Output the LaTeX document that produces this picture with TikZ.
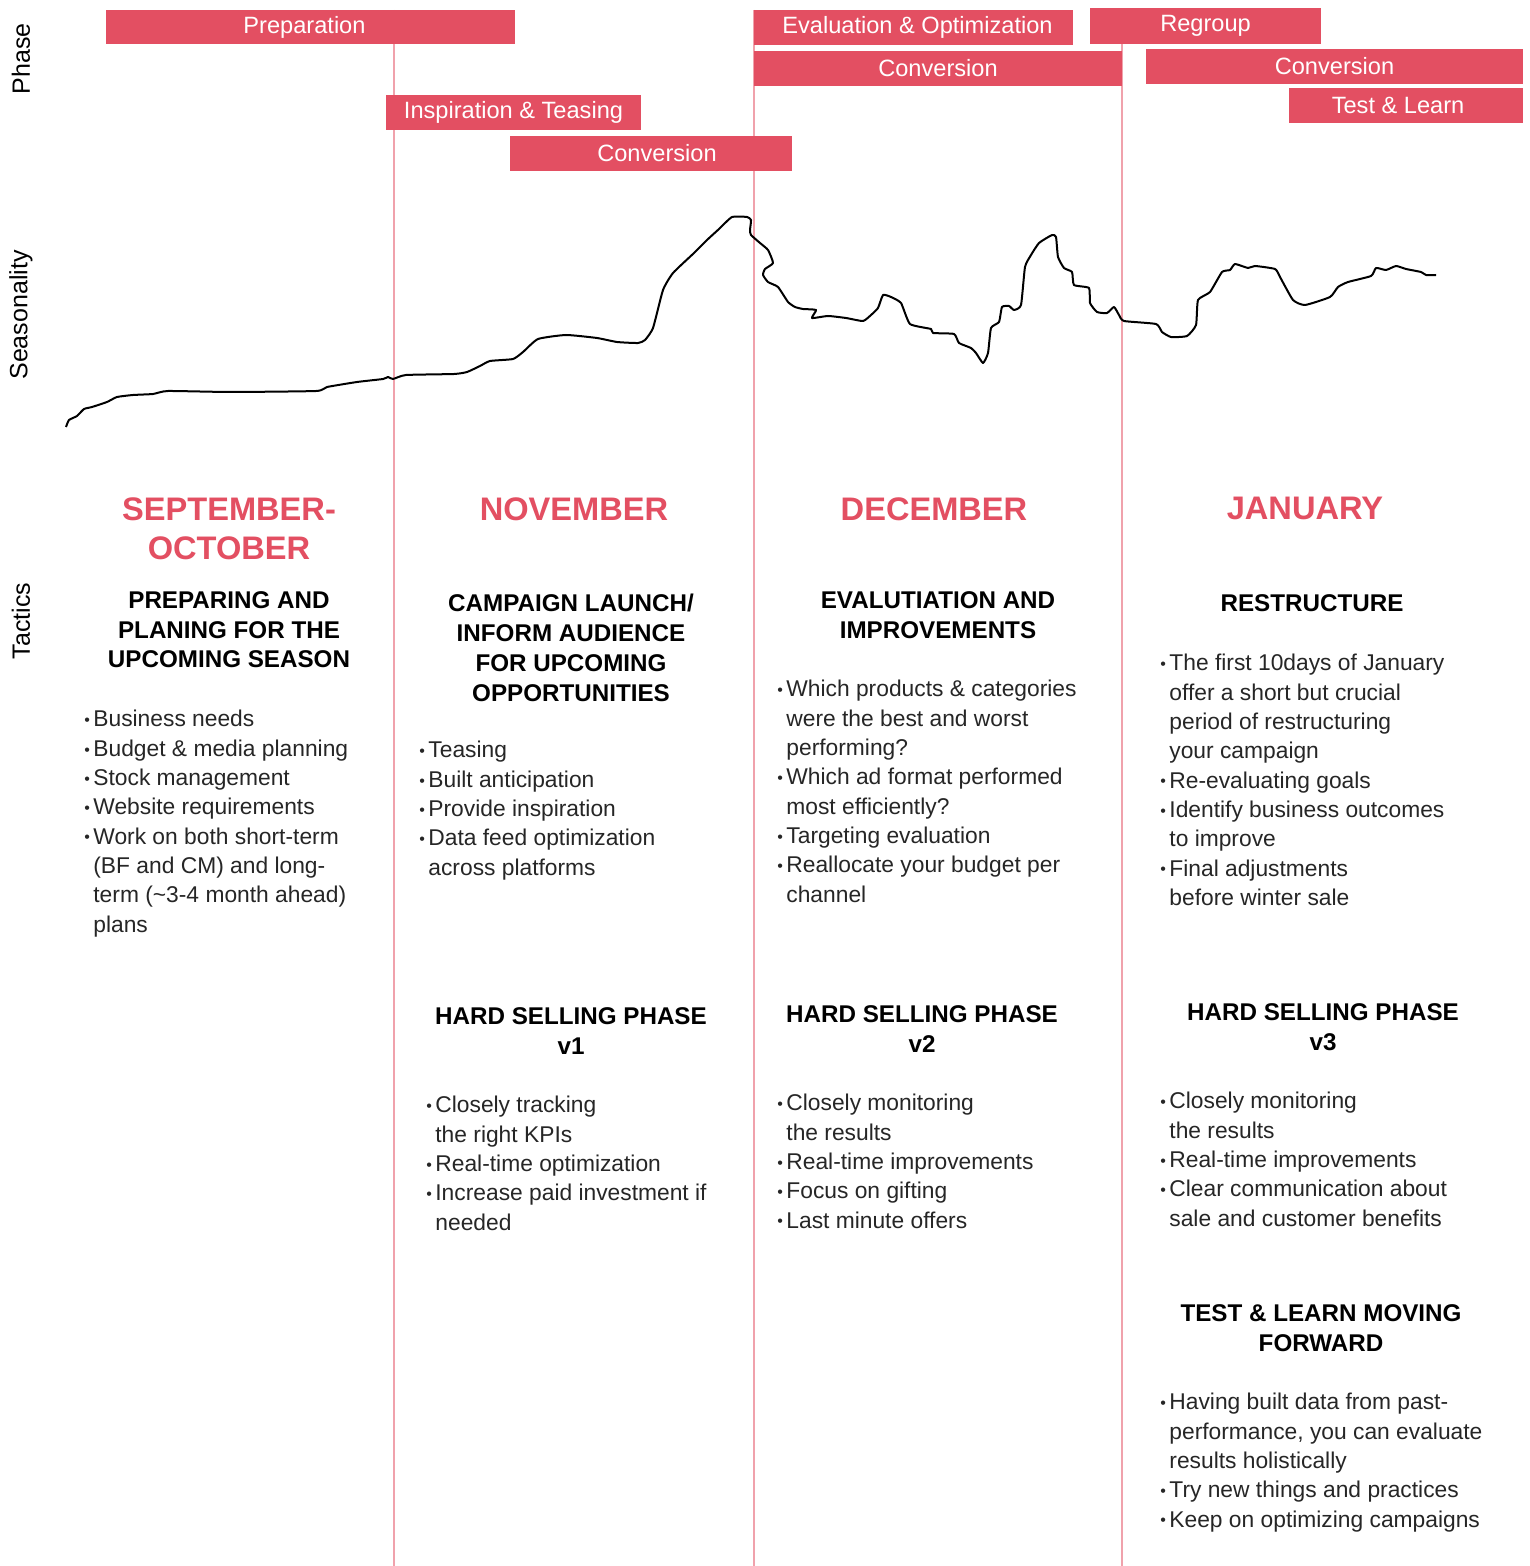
\documentclass[tikz,border=0pt]{standalone}
\usepackage{fontspec}
\setmainfont{Liberation Sans}
\usetikzlibrary{positioning}
\definecolor{phasered}{HTML}{E34F62}
\definecolor{gridpink}{HTML}{F0A2AC}
\tikzset{
  bar/.style={fill=phasered, draw=none},
  bartext/.style={text=white, font=\fontsize{11.8}{14}\selectfont, inner sep=0pt},
  gridline/.style={gridpink, line width=0.8pt},
  rowlabel/.style={rotate=90, font=\fontsize{12.5}{15}\selectfont, inner sep=0pt},
  month/.style={anchor=north, align=center, text=phasered, inner sep=0pt,
    font=\fontsize{16.3}{19.5}\selectfont\bfseries},
  heading/.style={anchor=north, align=center, inner sep=0pt,
    font=\fontsize{12.1}{14.9}\selectfont\bfseries},
  tactic/.style={anchor=north west, align=left, inner sep=0pt, text=black!85,
    font=\fontsize{11.4}{14.65}\selectfont}
}
\newcommand{\bl}{\makebox[4.5pt][l]{\raisebox{0.1ex}{\footnotesize\textbullet}}}
\newcommand{\ind}{\hspace*{4.5pt}}

\begin{document}
\begin{tikzpicture}[x=0.5pt, y=-0.5pt]
\useasboundingbox (0,0) rectangle (1529,1566);
\fill[white] (0,0) rectangle (1529,1566);
% month separators
\foreach \x in {394, 754, 1122} {
    \draw[gridline] (\x,10) -- (\x,1566);
}
% phase bars (last field shifts the label a little)
\foreach \xa/\ya/\xb/\yb/\name/\lbl/\dx in {
    106/10/515/44/prep/Preparation/-6,
    386/95/641/130/insp/Inspiration \& Teasing/0,
    510/136/792/171/convA/Conversion/6,
    754/10/1073/45/evalopt/Evaluation \& Optimization/4,
    754/51/1122/86/convB/Conversion/0,
    1090/8/1321/44/regroup/Regroup/0,
    1146/49/1523/84/convC/Conversion/0,
    1289/88/1523/123/testlearn/Test \& Learn/-8} {
    \draw[bar] (\xa,\ya) rectangle (\xb,\yb) node[midway, bartext, xshift=\dx*0.5pt] (\name) {\lbl};
}
% row labels
\node[rowlabel] (phaseLbl) at (21,59) {Phase};
\node[rowlabel] (seasonLbl) at (21,315) {Seasonality};
\node[rowlabel] (tacticsLbl) at (21,621) {Tactics};
% seasonality curve
\draw[line width=1pt, line join=round] plot[smooth, tension=0.3] coordinates {
    (66,427) (69,420) (77,416) (84,409) (92,407) (107,402) (117,397) (133,395)
    (153,394) (168,391) (230,392) (316,391) (327,387) (357,382) (383,379) (388,377)
    (393,379) (406,375) (454,374) (467,372) (480,366) (490,361) (513,359) (523,352)
    (538,339) (566,335) (597,338) (617,342) (638,343) (645,340) (653,328) (663,290)
    (673,273) (694,253) (707,240) (719,229) (732,217) (747,217) (751,220) (750,230)
    (751,235) (760,243) (768,250) (773,263) (765,269) (763,275) (768,282) (778,287)
    (788,302) (795,307) (803,309) (816,310) (812,318) (828,316) (846,318) (863,321)
    (871,315) (878,308) (883,295) (891,297) (901,303) (910,324) (931,329) (933,333)
    (954,334) (959,343) (971,348) (976,353) (983,363) (988,353) (991,328) (999,322)
    (1002,307) (1009,306) (1014,310) (1021,305) (1025,267) (1031,255) (1039,243)
    (1052,235) (1056,237) (1058,257) (1064,268) (1072,272) (1074,285) (1089,288)
    (1090,303) (1097,312) (1107,313) (1114,307) (1119,315) (1124,321) (1156,324)
    (1162,332) (1171,337) (1187,336) (1196,325) (1198,300) (1210,292) (1222,272)
    (1230,270) (1235,264) (1248,268) (1255,266) (1275,269) (1280,277) (1293,300)
    (1305,305) (1330,297) (1338,287) (1348,282) (1371,276) (1376,268) (1386,270)
    (1396,266) (1406,269) (1421,272) (1426,275) (1436,275)};
% months
\node[month] (sepoct) at (229,497) {SEPTEMBER-\\OCTOBER};
\node[month] (nov) at (574,497) {NOVEMBER};
\node[month] (dec) at (934,497) {DECEMBER};
\node[month] (jan) at (1305,497) {JANUARY};
% tactics per month
\node[heading] (sepHead) at (229,591) {PREPARING AND\\PLANING FOR THE\\UPCOMING SEASON};
\node[tactic] (sepList) at (84,710) {\bl Business needs\\
    \bl Budget \& media planning\\
    \bl Stock management\\
    \bl Website requirements\\
    \bl Work on both short-term\\
    \ind (BF and CM) and long-\\
    \ind term (\textasciitilde3-4 month ahead)\\
    \ind plans};
\node[heading] (novHead) at (571,594) {CAMPAIGN LAUNCH/\\INFORM AUDIENCE\\FOR UPCOMING\\OPPORTUNITIES};
\node[tactic] (novList) at (419,741) {\bl Teasing\\
    \bl Built anticipation\\
    \bl Provide inspiration\\
    \bl Data feed optimization\\
    \ind across platforms};
\node[heading] (decHead) at (938,591) {EVALUTIATION AND\\IMPROVEMENTS};
\node[tactic] (decList) at (777,680) {\bl Which products \& categories\\
    \ind were the best and worst\\
    \ind performing?\\
    \bl Which ad format performed\\
    \ind most efficiently?\\
    \bl Targeting evaluation\\
    \bl Reallocate your budget per\\
    \ind channel};
\node[heading] (janHead) at (1312,594) {RESTRUCTURE};
\node[tactic] (janList) at (1160,654) {\bl The first 10days of January\\
    \ind offer a short but crucial\\
    \ind period of restructuring\\
    \ind your campaign\\
    \bl Re-evaluating goals\\
    \bl Identify business outcomes\\
    \ind to improve\\
    \bl Final adjustments\\
    \ind before winter sale};
% hard selling phases
\node[heading] (hardA) at (571,1007) {HARD SELLING PHASE\\v1};
\node[tactic] (hardAList) at (426,1096) {\bl Closely tracking\\
    \ind the right KPIs\\
    \bl Real-time optimization\\
    \bl Increase paid investment if\\
    \ind needed};
\node[heading] (hardB) at (922,1005) {HARD SELLING PHASE\\v2};
\node[tactic] (hardBList) at (777,1094) {\bl Closely monitoring\\
    \ind the results\\
    \bl Real-time improvements\\
    \bl Focus on gifting\\
    \bl Last minute offers};
\node[heading] (hardC) at (1323,1003) {HARD SELLING PHASE\\v3};
\node[tactic] (hardCList) at (1160,1092) {\bl Closely monitoring\\
    \ind the results\\
    \bl Real-time improvements\\
    \bl Clear communication about\\
    \ind sale and customer benefits};
% test and learn
\node[heading] (tlHead) at (1321,1304) {TEST \& LEARN MOVING\\FORWARD};
\node[tactic] (tlList) at (1160,1393) {\bl Having built data from past-\\
    \ind performance, you can evaluate\\
    \ind results holistically\\
    \bl Try new things and practices\\
    \bl Keep on optimizing campaigns};
\end{tikzpicture}
\end{document}
